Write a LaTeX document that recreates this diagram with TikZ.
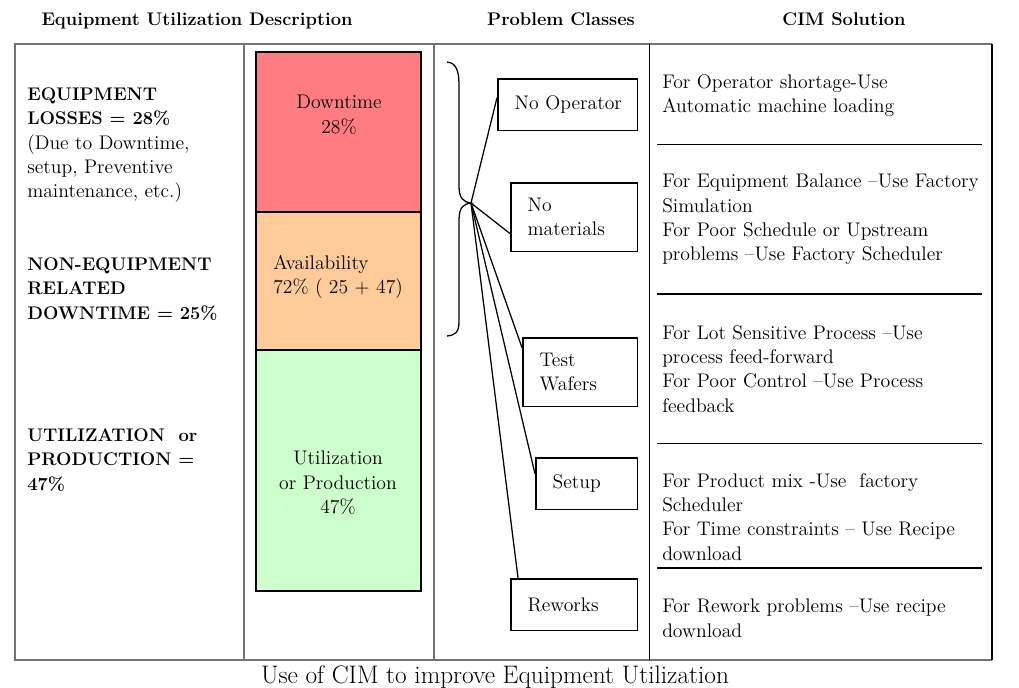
\documentclass[tikz,border=0pt]{standalone}
\definecolor{downred}{HTML}{FF7C80}
\definecolor{availorange}{HTML}{FFCC99}
\definecolor{utilgreen}{HTML}{CCFFCC}
\begin{document}
\begin{tikzpicture}[x=0.025cm,y=-0.025cm,
    txt/.style={inner sep=0pt,anchor=north west,align=left,font=\fontsize{14}{17.3}\selectfont},
    boldtxt/.style={txt,font=\fontsize{13}{17.6}\selectfont\bfseries},
    hdr/.style={inner sep=0pt,anchor=base,font=\fontsize{13}{16}\selectfont\bfseries},
    pbox/.style={draw,line width=1.1pt,anchor=north west,align=left,inner ysep=0pt,inner xsep=12pt,
        font=\fontsize{14}{17.3}\selectfont},
    frameline/.style={draw=gray!90!black,line width=0.8pt}]
\useasboundingbox (0,0) rectangle (1019,688);
% column headings
\node[hdr] (hdesc) at (197,26) {Equipment Utilization Description};
\node[hdr] (hclass) at (561,26) {Problem Classes};
\node[hdr] (hcim) at (844,26) {CIM Solution};
% table frame
\draw[frameline] (992,44) -- (15,44) -- (15,660) -- (992,660);
\draw[line width=1pt] (992,44) -- (992,660);
\draw[frameline] (244,44) -- (244,660);
\draw[frameline] (434,44) -- (434,660);
\draw[line width=0.7pt] (649,44) -- (649,660);
% left column
\node[boldtxt] (loss) at (27,87) {EQUIPMENT\\LOSSES = 28\%};
\node[txt] (lossnote) at (27,134) {(Due to Downtime,\\setup, Preventive\\maintenance, etc.)};
\node[boldtxt] (noneq) at (27,257) {NON-EQUIPMENT\\RELATED\\DOWNTIME = 25\%};
\node[boldtxt] (prod) at (27,428) {UTILIZATION~ or\\PRODUCTION =\\47\%};
% stacked bar
\filldraw[fill=downred,line width=1.2pt] (256,52) rectangle (421,212);
\filldraw[fill=availorange,line width=1.2pt] (256,212) rectangle (421,350);
\filldraw[fill=utilgreen,line width=1.2pt] (256,350) rectangle (421,591);
\node[txt,anchor=north,align=center] (down) at (339,95) {Downtime\\28\%};
\node[txt] (avail) at (273,255) {Availability\\72\% ( 25 + 47)};
\node[txt,anchor=north,align=center] (util) at (338,451) {Utilization\\or Production\\47\%};
% brace and problem classes
\coordinate (tip) at (471,203);
\draw[line width=0.9pt] (447,62) .. controls (457,63) and (459,72) .. (459,86) -- (459,186)
    .. controls (459,198) and (463,202) .. (tip) .. controls (463,204) and (459,208) .. (459,220)
    -- (459,321) .. controls (459,332) and (456,335) .. (447,336);
\node[pbox,minimum width=99.2pt,minimum height=36.9pt,text width=75.2pt] (noop) at (497,78) {\mbox{No Operator}};
\node[pbox,minimum width=90pt,minimum height=48.9pt,text width=66pt] (nomat) at (510,182) {No\\materials};
\node[pbox,minimum width=81.5pt,minimum height=48.9pt,text width=57.5pt] (test) at (522,337) {Test\\Wafers};
\node[pbox,minimum width=72.3pt,minimum height=36.9pt,text width=48.3pt] (setup) at (535,457) {Setup};
\node[pbox,minimum width=90pt,minimum height=36.9pt,text width=66pt] (rework) at (510,578) {Reworks};
\draw[line width=0.9pt] (tip) -- ([yshift=5pt]noop.west);
\draw[line width=0.9pt] (tip) -- ([yshift=-11.7pt]nomat.west);
\draw[line width=0.9pt] (tip) -- ([yshift=17.4pt]test.west);
\draw[line width=0.9pt] (tip) -- ([yshift=7pt]setup.west);
\draw[line width=0.9pt] (tip) -- ([xshift=5.7pt]rework.north west);
% CIM solutions
\node[txt] (sol1) at (662,74) {For Operator shortage-Use\\Automatic machine loading};
\draw[line width=0.6pt] (657,144) -- (982,144);
\node[txt] (sol2) at (662,174) {For Equipment Balance --Use Factory\\Simulation\\For Poor Schedule or Upstream\\problems --Use Factory Scheduler};
\draw[line width=1.4pt] (657,294) -- (982,294);
\node[txt] (sol3) at (662,325) {For Lot Sensitive Process --Use\\process feed-forward\\For Poor Control --Use Process\\feedback};
\draw[line width=0.6pt] (657,443) -- (982,443);
\node[txt] (sol4) at (662,473) {For Product mix -Use~ factory\\Scheduler\\For Time constraints -- Use Recipe\\download};
\draw[line width=1.4pt] (657,568) -- (982,568);
\node[txt] (sol5) at (662,599) {For Rework problems --Use recipe\\download};
% caption
\node[inner sep=0pt,anchor=base,font=\fontsize{18}{21}\selectfont] (caption) at (495,683) {Use of CIM to improve Equipment Utilization};
\end{tikzpicture}
\end{document}
